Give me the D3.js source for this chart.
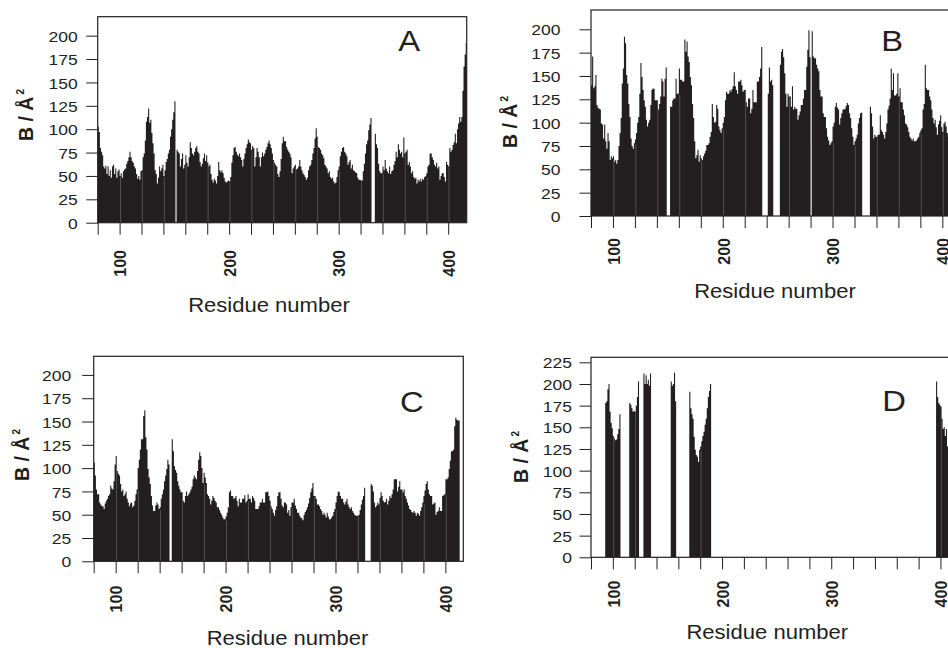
<!DOCTYPE html>
<html><head><meta charset="utf-8">
<script src="https://cdn.jsdelivr.net/npm/d3@7"></script>
<style>body{margin:0;background:#fff}svg{display:block}</style>
</head><body>
<svg id="c" width="948" height="648"></svg>
<script>
// ---- DATA (B-factor per residue, starting at residue 80; null = no residue) ----
const START = 80;
const bA = [
103,97,80,76,72,60,58,61,52,60,
50,56,48,60,62,52,58,48,55,57,
50,53,48,55,57,58,63,66,70,76,
70,66,64,60,58,52,47,50,46,55,
56,70,74,88,108,113,122,107,110,96,
85,74,56,52,42,48,60,55,58,62,
50,56,65,68,74,78,92,100,110,118,
130,null,78,76,74,60,68,74,58,62,
72,64,60,70,86,80,74,72,76,80,
82,76,74,65,60,63,69,74,66,72,
64,60,62,52,46,43,47,45,42,50,
65,56,54,56,53,48,44,43,44,45,
44,49,64,72,80,81,76,73,71,74,
70,67,60,68,74,80,84,89,86,85,
78,82,80,60,70,80,76,70,60,70,
75,71,74,78,81,85,88,84,80,74,
67,64,62,60,52,49,55,68,85,92,
87,87,81,78,76,74,70,53,58,60,
62,57,58,60,67,60,56,53,51,49,
46,48,56,60,62,67,74,80,90,101,
92,81,80,78,74,72,69,62,60,58,
53,55,49,47,48,44,42,43,49,56,
60,71,76,80,81,76,74,71,62,65,
67,58,62,56,55,54,53,48,46,46,
45,45,55,63,74,84,88,99,105,112,
null,null,null,95,84,80,63,55,53,53,
60,56,67,58,55,53,60,52,55,56,
62,66,76,70,84,78,74,76,70,91,
74,76,78,62,65,60,53,55,49,47,
48,42,46,44,47,44,47,46,49,50,
53,60,62,74,74,70,67,62,60,64,
58,60,46,50,53,53,49,44,65,62,
60,80,76,78,83,86,95,85,100,106,
113,108,113,141,167,180,192];
const bB = [
140,171,137,139,151,119,116,115,114,99,
98,83,98,80,72,89,80,60,64,62,
64,58,60,56,60,75,89,105,142,158,
192,185,151,142,120,106,83,75,72,78,
82,89,100,106,131,164,149,135,124,117,
103,96,100,103,119,135,137,136,124,124,
124,114,120,128,147,144,128,147,159,null,
null,null,117,117,124,126,126,147,131,131,
158,146,146,144,144,189,176,187,171,165,
149,140,120,105,80,62,65,71,58,65,
62,60,64,67,70,76,76,78,85,90,
120,106,100,101,119,115,96,92,89,94,
100,106,124,133,131,131,135,133,136,139,
154,139,135,131,144,144,146,140,133,135,
135,122,117,126,126,110,115,135,122,122,
122,144,144,149,158,181,null,null,null,null,
null,131,159,144,146,140,null,null,null,null,
null,null,162,176,179,170,153,131,117,131,
128,128,117,139,114,117,115,115,103,108,
112,119,119,126,135,135,160,178,199,170,
null,198,171,169,169,162,158,155,135,128,
128,110,106,106,94,85,81,76,78,80,
96,100,117,121,116,114,98,105,110,114,
114,115,118,121,119,110,105,94,85,76,
80,83,87,99,105,110,111,null,null,null,
null,null,null,null,117,110,96,83,87,85,
85,87,87,108,92,90,87,83,90,99,
114,118,126,158,135,153,129,129,131,153,
128,137,122,122,114,108,99,98,95,90,
85,83,81,83,80,80,81,83,85,89,
92,94,114,120,162,137,135,135,128,124,
114,105,99,103,95,87,98,102,108,95,
90,99,101,96,89,85,100,80];
const bC = [
106,92,77,72,72,63,61,59,59,56,
62,65,67,70,72,81,78,77,86,104,
113,97,94,92,83,75,77,70,72,75,
67,63,59,62,63,58,60,65,72,77,
100,109,120,131,131,156,162,133,120,99,
90,83,70,60,54,54,60,63,61,56,
58,67,72,77,86,92,99,109,104,null,
null,131,118,102,98,95,86,81,77,74,
74,65,63,70,75,70,72,74,77,80,
88,92,90,88,97,109,117,113,100,84,
95,90,84,72,70,67,61,65,70,68,
65,63,58,58,55,52,50,47,45,45,
48,52,58,74,76,70,70,67,68,70,
65,59,67,63,63,67,67,71,63,65,
72,67,67,63,70,68,65,56,56,56,
59,63,63,67,63,63,74,74,75,70,
65,59,56,52,49,55,59,70,74,74,
67,60,58,63,63,61,52,55,49,58,
63,63,67,60,56,52,52,49,47,46,
44,50,53,55,58,62,68,74,78,84,
70,70,67,61,61,59,56,54,50,52,
50,47,52,48,45,45,47,49,53,56,
63,70,75,74,70,67,67,63,61,64,
67,61,58,56,58,54,52,50,49,49,
49,50,55,61,66,70,79,null,null,null,
null,null,83,81,75,63,58,60,63,61,
68,74,70,65,63,64,67,61,65,70,
68,72,77,88,88,88,75,80,86,77,
77,74,77,70,67,63,60,56,55,53,
52,54,52,49,52,51,49,54,58,63,
70,76,83,86,77,72,70,70,61,62,
63,50,53,54,58,54,54,70,71,72,
88,88,90,99,108,118,118,120,145,154,
152,151,151];
// Panel D: only a few stretches of residues were modelled: [first residue, values]
const dRuns = [
  [93,  [178,180,194,200,168,155,149,140,137,135,136,142,148,165]],
  [115, [178,176,172,168,169,168,175,185,203]],
  [128, [212,200,210,200,205,198,212]],
  [153, [203,198,200,213,180]],
  [170, [191,172,165,160,139,124,118,116,110,124,128,134,140,145,153,160,172,185,192,200]],
  [396, [203,185,178,176,174,160,148,150,140,148,128]]
];
const yTicksABC = [0,25,50,75,100,125,150,175,200];
const yTicksD = [0,25,50,75,100,125,150,175,200,225];
const xTicks = [80,100,120,140,160,180,200,220,240,260,280,300,320,340,360,380,400];
const xTickLabels = [100,200,300,400];
const panelLetters = ["A","B","C","D"];
const yTitle = "B / Å";
const yTitleSup = "2";
const xTitle = "Residue number";

// ---- helpers ----
function fromArray(arr){ return arr.map((v,i)=>({r:START+i, v:v})); }
function fromRuns(runs, end){
  const m = new Map();
  runs.forEach(([s,vals])=>vals.forEach((v,i)=>m.set(s+i,v)));
  const out=[]; for(let r=START;r<=end;r++) out.push({r:r, v:m.has(r)?m.get(r):null});
  return out;
}
const INK = "#231f20";
const FONT = "'Liberation Sans', Arial, Helvetica, sans-serif";
const SX = 1.13; // horizontal stretch of the original picture
function stretch(sel,k){ sel.each(function(){ const L=this.getComputedTextLength(); if(L>0){ this.setAttribute("textLength",L*k); this.setAttribute("lengthAdjust","spacingAndGlyphs"); } }); }

const panels = [
 {data:fromArray(bA), left:97.7, top:16.7, w:369, h:206, xMax:416.9, yMax:220.3, yTicks:yTicksABC, pad:8.5,
  ylabX:32.7, ylabY:115, xlabX:269, xlabY:311.7, letX:398.3, letY:50.7, xtOff:27.3},
 {data:fromArray(bB), left:591, top:10, w:370, h:206, xMax:417, yMax:220.7, yTicks:yTicksABC, pad:19,
  ylabX:517.3, ylabY:122, xlabX:775, xlabY:297.7, letX:881.3, letY:50.7, xtOff:22},
 {data:fromArray(bC), left:93.7, top:356.3, w:369.6, h:205, xMax:416.3, yMax:220, yTicks:yTicksABC, pad:11,
  ylabX:29.3, ylabY:455, xlabX:287.5, xlabY:644.5, letX:400, letY:411.8, xtOff:24.4},
 {data:fromRuns(dRuns,406), left:591, top:357.3, w:368, h:200, xMax:417, yMax:230.8, yTicks:yTicksD, pad:7.5,
  ylabX:528, ylabY:457, xlabX:767.3, xlabY:639, letX:882.3, letY:411.3, xtOff:23.4}
];

const svg = d3.select("#c");
const defs = svg.append("defs");

panels.forEach((p,i)=>{
  const x = d3.scaleLinear().domain([START, p.xMax]).range([0, p.w]);
  const y = d3.scaleLinear().domain([0, p.yMax]).range([p.h, 0]);
  const g = svg.append("g").attr("transform",`translate(${p.left},${p.top})`);

  defs.append("clipPath").attr("id","clip"+i).append("rect").attr("width",p.w).attr("height",p.h);

  // step points: each residue covers [r, r+1]
  const pts = [];
  p.data.forEach(d=>{
    if(d.v==null){ pts.push({x:d.r, v:null}); }
    else { pts.push({x:d.r, v:d.v}); pts.push({x:d.r+1, v:d.v}); }
  });
  const area = d3.area().defined(d=>d.v!=null).x(d=>x(d.x)).y0(y(0)).y1(d=>y(d.v));
  const bars = g.append("g").attr("clip-path",`url(#clip${i})`);
  bars.append("path").datum(pts).attr("d",area).attr("fill",INK).attr("stroke","none");

  // faint lighter lines inside the bars at the tick positions
  const vAt = new Map(p.data.map(d=>[d.r,d.v]));
  bars.selectAll("line.seam").data(xTicks.filter(t=>vAt.get(t)!=null && vAt.get(t-1)!=null))
    .enter().append("line").attr("class","seam")
    .attr("x1",t=>x(t)+0.9).attr("x2",t=>x(t)+0.9)
    .attr("y1",y(0)).attr("y2",t=>y(Math.min(vAt.get(t),vAt.get(t-1)))+1)
    .attr("stroke","#707070").attr("stroke-width",0.6);

  // box
  g.append("rect").attr("width",p.w).attr("height",p.h).attr("fill","none").attr("stroke",INK).attr("stroke-width",1.2);

  // y axis
  const ya = g.append("g").call(d3.axisLeft(y).tickValues(p.yTicks).tickSize(11.5).tickPadding(p.pad).tickFormat(d3.format("d")));
  ya.select(".domain").remove();
  ya.selectAll("line").attr("stroke",INK).attr("stroke-width",1);
  ya.selectAll("text").attr("fill",INK).style("font-family",FONT).style("font-size","15.5px").attr("dy","0.36em");
  stretch(ya.selectAll("text"),SX);

  // x axis
  const xa = g.append("g").attr("transform",`translate(0,${p.h})`)
    .call(d3.axisBottom(x).tickValues(xTicks).tickSize(12).tickFormat(d=>xTickLabels.includes(d)?d:""));
  xa.select(".domain").remove();
  xa.selectAll("line").attr("stroke",INK).attr("stroke-width",1);
  xa.selectAll("text").attr("fill",INK).style("font-family",FONT).style("font-size","16px").style("font-weight","bold")
    .attr("transform","rotate(-90)").attr("x",-p.xtOff).attr("y",0.5).attr("dy","0.36em").attr("text-anchor","end");

  // titles
  const yt = svg.append("text").attr("transform",`translate(${p.ylabX},${p.ylabY}) rotate(-90)`)
    .attr("text-anchor","middle").attr("fill",INK).style("font-family",FONT).style("font-size","19.5px").style("font-weight","bold");
  yt.append("tspan").text(yTitle);
  yt.append("tspan").attr("dx","2").attr("dy","-9").style("font-size","10px").text(yTitleSup);

  const xt = svg.append("text").attr("x",p.xlabX).attr("y",p.xlabY).attr("text-anchor","middle")
    .attr("fill",INK).style("font-family",FONT).style("font-size","19.5px").text(xTitle);
  stretch(xt,SX);

  const lt = svg.append("text").attr("x",p.letX).attr("y",p.letY).attr("fill",INK)
    .style("font-family",FONT).style("font-size","29px").text(panelLetters[i]);
  stretch(lt,SX);
});
</script>
</body></html>
